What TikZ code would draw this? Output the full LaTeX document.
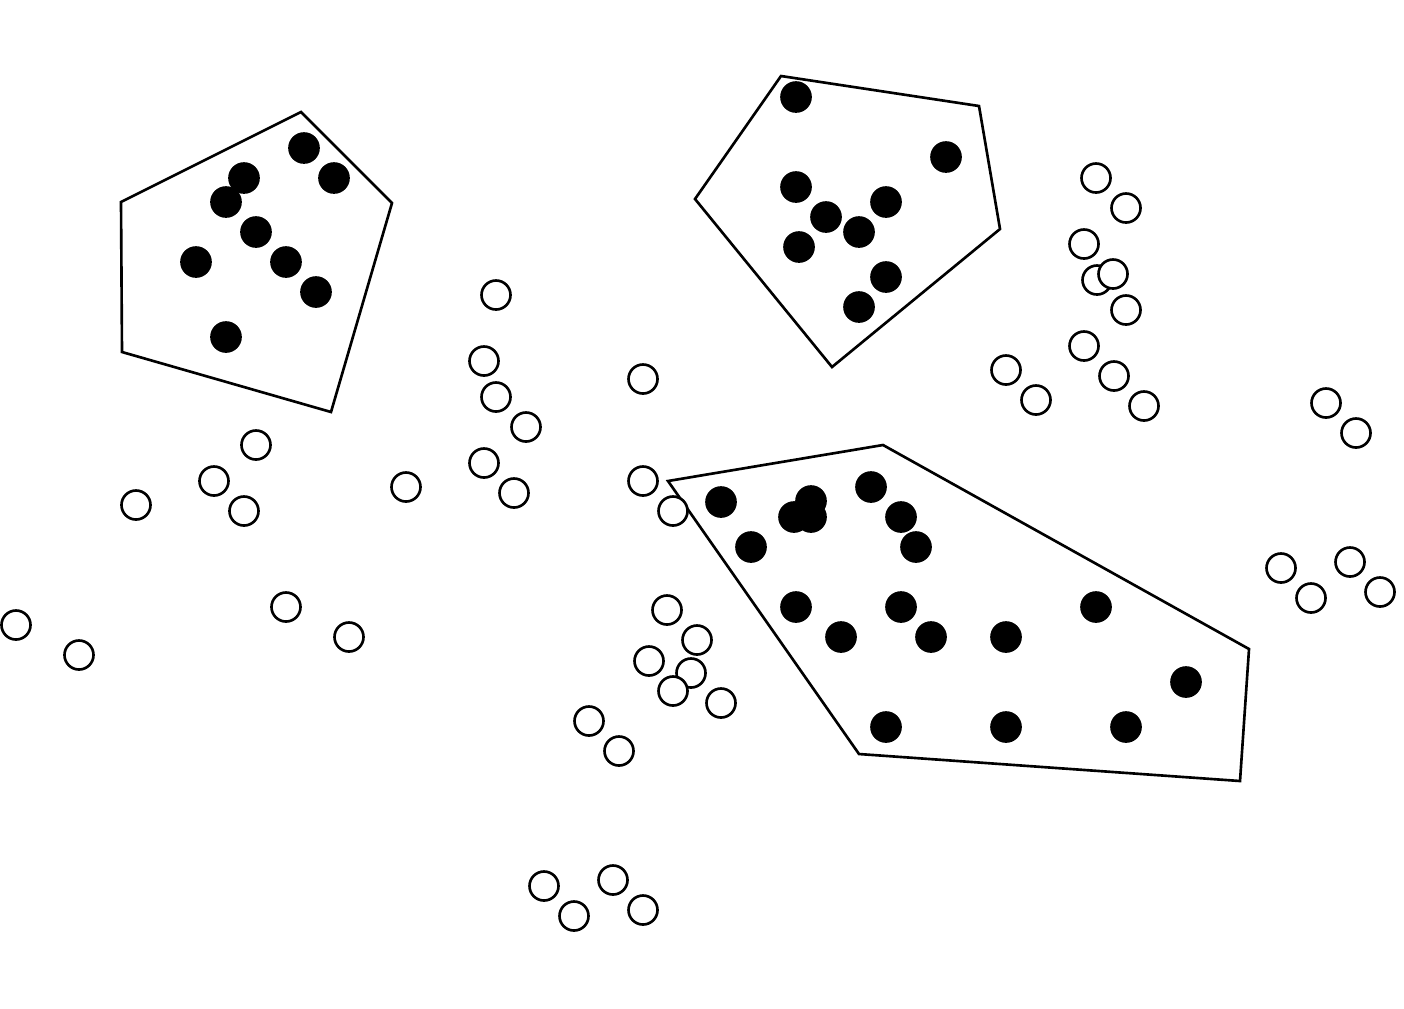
\documentclass[tikz,border=0pt]{standalone}
\usepackage{tikz}

\begin{document}
\begin{tikzpicture}[x=0.01cm, y=-0.01cm, line width=0.75pt,
  hull/.style={draw=black, line join=miter},
  hollow/.style={draw=black, fill=white},
  full/.style={draw=black, fill=black}]
\useasboundingbox (0,0) rectangle (1404,1008);

% cluster hulls
\draw[hull] (121,202) -- (301,112) -- (392,203) -- (331,412) -- (122,352) -- cycle;
\draw[hull] (781,76) -- (979,106) -- (1000,229) -- (832,367) -- (695,199) -- cycle;
\draw[hull] (668,481) -- (883,445) -- (1249,649) -- (1240,781) -- (859,754) -- cycle;

% unclustered points
\foreach \px/\py in {496/295, 484/361, 496/397, 526/427, 484/463, 514/493, 406/487,
  256/445, 214/481, 244/511, 136/505, 16/625, 79/655, 286/607, 349/637,
  643/379, 643/481, 673/511, 667/610, 697/640, 649/661, 691/673, 673/691, 721/703,
  589/721, 619/751, 544/886, 574/916, 613/880, 643/910,
  1096/178, 1126/208, 1084/244, 1097/280, 1113/274, 1126/310, 1084/346, 1114/376,
  1144/406, 1006/370, 1036/400, 1326/403, 1356/433, 1281/568, 1311/598, 1350/562,
  1380/592}
  \draw[hollow] (\px,\py) circle (0.145cm);

% clustered points
\foreach \px/\py in {304/148, 244/178, 334/178, 226/202, 256/232, 196/262, 286/262,
  316/292, 226/337,
  796/97, 946/157, 796/187, 886/202, 826/217, 859/232, 799/247, 886/277, 859/307,
  721/502, 811/501, 794/517, 811/517, 871/487, 901/517, 751/547, 916/547,
  796/607, 901/607, 841/637, 931/637, 1006/637, 1096/607, 1186/682,
  886/727, 1006/727, 1126/727}
  \draw[full] (\px,\py) circle (0.145cm);
\end{tikzpicture}
\end{document}
